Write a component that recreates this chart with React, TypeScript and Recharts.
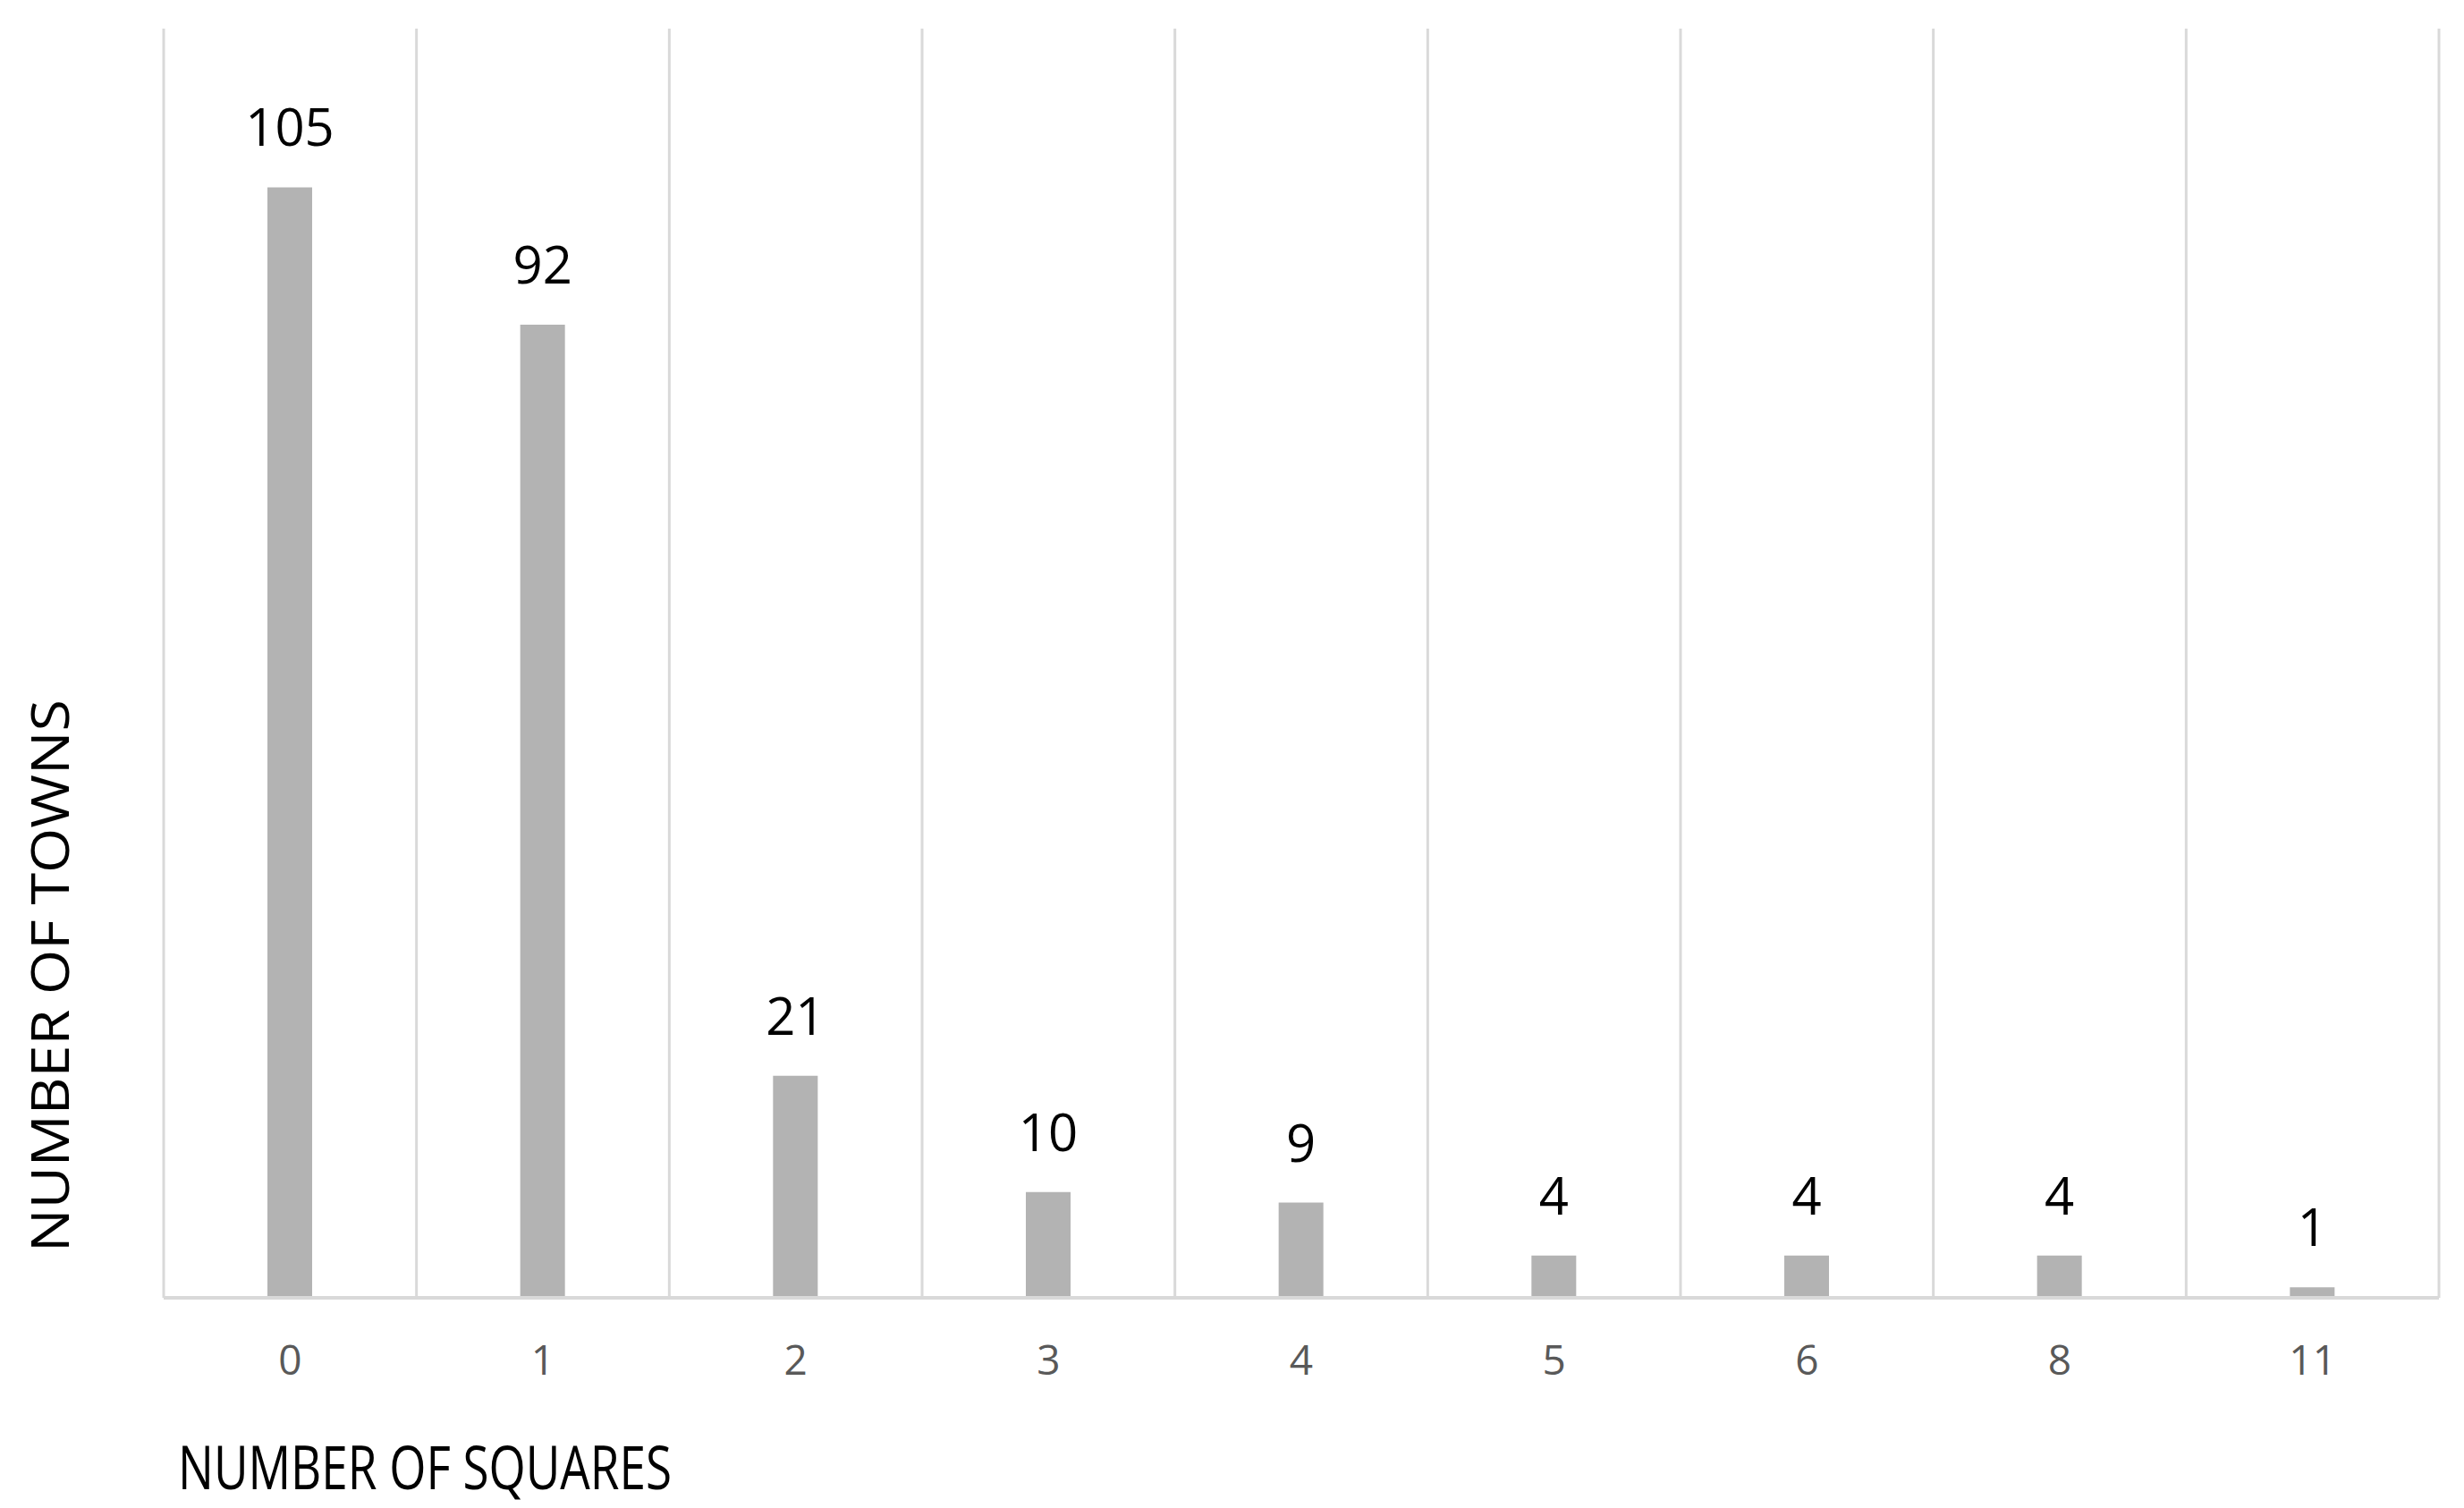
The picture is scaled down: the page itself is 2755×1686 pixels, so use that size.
import React from 'react';
import { BarChart, Bar, XAxis, YAxis, CartesianGrid, LabelList, Customized } from 'recharts';

const categories = ['0', '1', '2', '3', '4', '5', '6', '8', '11'];
const towns = [105, 92, 21, 10, 9, 4, 4, 4, 1];
const yDomain = [0, 120];
const xTitle = 'NUMBER OF SQUARES';
const yTitle = 'NUMBER OF TOWNS';

const data = categories.map((c, i) => ({ squares: c, towns: towns[i] }));

const W = 2755;
const H = 1686;
const FONT = "'Liberation Sans Narrow', 'Open Sans', 'Liberation Sans', sans-serif";

const Tick = (props: any) => {
  const { x, y, payload } = props;
  return (
    <text x={x} y={y + 86} textAnchor="middle" fill="#595959" fontSize={46} fontFamily={FONT}>
      {payload.value}
    </text>
  );
};

const ValueLabel = (props: any) => {
  const { x, y, width, value } = props;
  return (
    <text x={x + width / 2} y={y - 46} textAnchor="middle" fill="#000" fontSize={58} fontFamily={FONT}>
      {value}
    </text>
  );
};

const Titles = () => (
  <g>
    <text x={199} y={1665} fontSize={68} fill="#000" fontFamily={FONT} textLength={552} lengthAdjust="spacingAndGlyphs">
      {xTitle}
    </text>
    <text
      x={77}
      y={1091}
      transform="rotate(-90, 77, 1091)"
      textAnchor="middle"
      fontSize={58}
      fill="#000"
      fontFamily={FONT}
      textLength={618}
      lengthAdjust="spacingAndGlyphs"
    >
      {yTitle}
    </text>
  </g>
);

export default function App() {
  return (
    <div style={{ position: 'absolute', left: 0, top: 0, width: W, height: H, background: '#fff' }}>
      <BarChart width={W} height={H} data={data} margin={{ top: 32, right: 28, left: 183, bottom: 205 }}>
        <CartesianGrid
          horizontal={false}
          stroke="#d9d9d9"
          strokeWidth={3}
          verticalCoordinatesGenerator={({ offset }: any) => {
            const n = categories.length;
            const bw = offset.width / n;
            return Array.from({ length: n + 1 }, (_, i) => offset.left + i * bw);
          }}
        />
        <XAxis
          dataKey="squares"
          axisLine={{ stroke: '#d9d9d9', strokeWidth: 4 }}
          tickLine={false}
          tickSize={0}
          tickMargin={0}
          tick={<Tick />}
          interval={0}
          height={30}
        />
        <YAxis hide domain={yDomain} />
        <Bar dataKey="towns" fill="#b3b3b3" barSize={50} isAnimationActive={false}>
          <LabelList dataKey="towns" content={<ValueLabel />} />
        </Bar>
        <Customized component={Titles} />
      </BarChart>
    </div>
  );
}
